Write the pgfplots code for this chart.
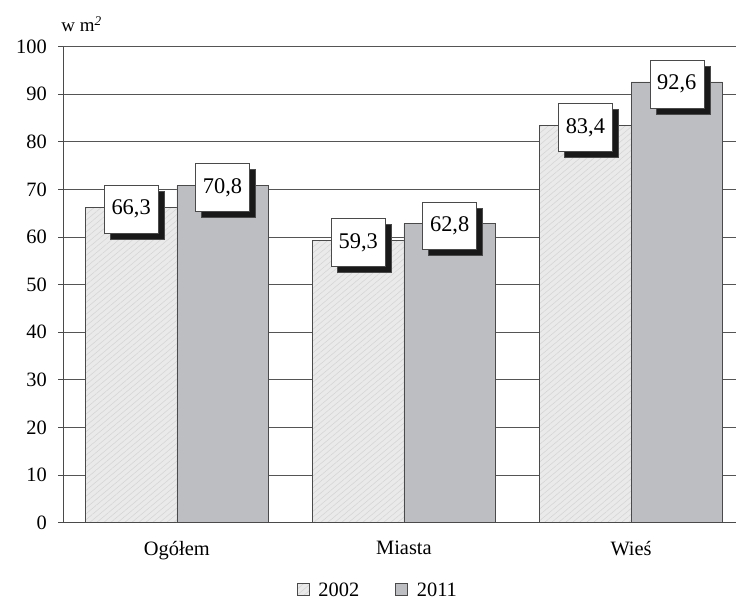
\documentclass[border=0pt]{standalone}
\usepackage{fontspec}
\setmainfont{Liberation Serif}
\usepackage{pgfplots}
\pgfplotsset{compat=1.18}
\usetikzlibrary{patterns.meta,shadows}

\definecolor{barA}{HTML}{EAEAEA}
\definecolor{hatchA}{HTML}{D6D6D6}
\definecolor{barB}{HTML}{BDBEC1}
\definecolor{edge}{HTML}{4A4A4A}
\definecolor{gridc}{HTML}{555555}

\begin{document}
\begin{tikzpicture}
\begin{axis}[
    at={(0,0)}, anchor=south west,
    scale only axis,
    clip=false,
    width=672.7bp, height=476.3bp,
    ybar=0pt,
    bar width=0.4025,
    xmin=-0.5, xmax=2.46,
    ymin=0, ymax=100,
    xtick={0,1,2},
    xticklabels={Ogółem, Miasta, Wieś},
    ytick={0,10,...,100},
    axis x line*=bottom,
    axis y line*=left,
    axis line style={draw=edge, line width=0.9bp, -},
    ymajorgrids,
    grid style={draw=gridc, line width=0.9bp},
    tick align=outside,
    x tick style={draw=none},
    y tick style={draw=edge, line width=0.9bp},
    major tick length=5bp,
    tick label style={font=\fontsize{20.5}{22}\selectfont},
    /pgf/number format/assume math mode=true,
    yticklabel style={xshift=-8bp},
    xticklabel style={yshift=-10bp},
    legend style={at={(0.468,-0.143)}, anchor=center, draw=none, fill=none,
        legend columns=2, font=\fontsize{20.5}{22}\selectfont,
        /tikz/every even column/.append style={column sep=34bp}},
    legend image code/.code={\draw[#1] (0bp,-5bp) rectangle (12bp,7bp);
        \path (19bp,0bp);},
    nodes near coords={\pgfmathprintnumber[fixed,fixed zerofill,precision=1,use comma]{\pgfplotspointmeta}},
    every node near coord/.append style={
        anchor=center, yshift=-2bp,
        draw=edge, line width=0.5bp, fill=white,
        minimum width=54bp, minimum height=48bp, inner sep=0pt,
        font=\fontsize{22.5}{24}\selectfont,
        drop shadow={shadow xshift=6bp, shadow yshift=-6bp, fill=black!90, opacity=1}},
]
\addplot[draw=edge, line width=0.6bp, fill=barA,
    postaction={pattern={Lines[angle=40, distance=4.5bp, line width=0.6bp]}, pattern color=hatchA}]
    coordinates {(0,66.3) (1,59.3) (2,83.4)};
\addlegendentry{2002}
\addplot[draw=edge, line width=0.6bp, fill=barB]
    coordinates {(0,70.8) (1,62.8) (2,92.6)};
\addlegendentry{2011}
\end{axis}
\node[anchor=base west, font=\fontsize{19}{20}\selectfont, inner sep=0pt]
    at (-2bp,491bp) {w m\textsuperscript{\itshape 2}};
\path (-63.3bp,-81bp) rectangle (672.7bp,523bp);
\end{tikzpicture}
\end{document}
